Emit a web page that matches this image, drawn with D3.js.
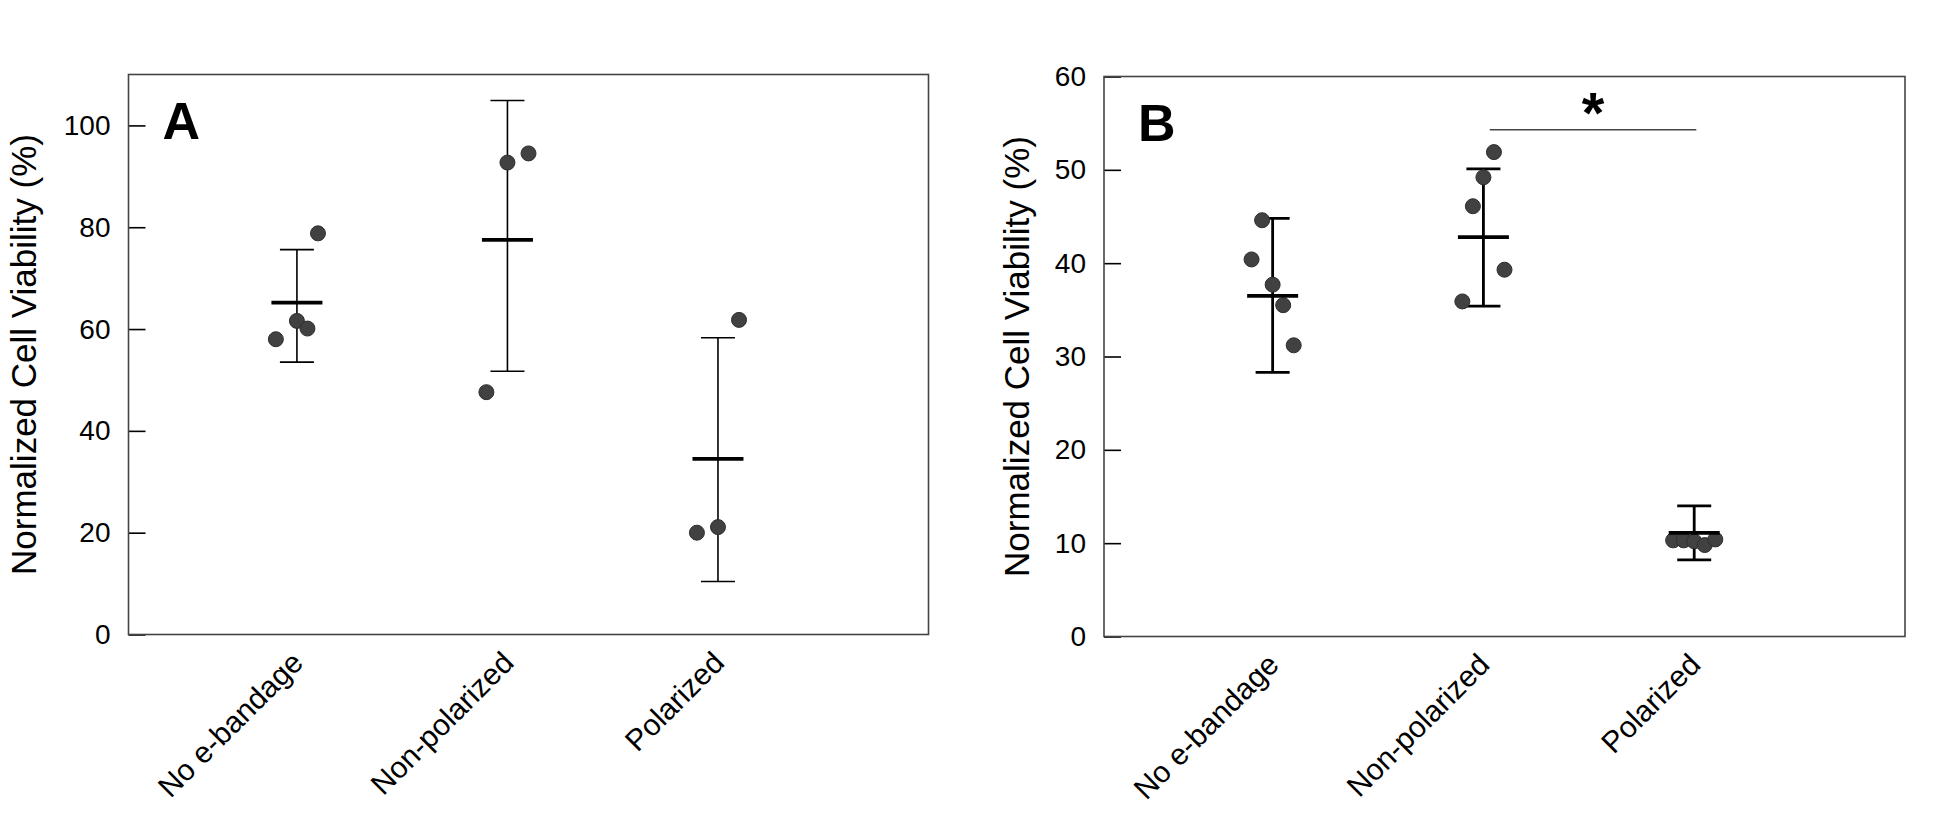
<!DOCTYPE html>
<html>
<head>
<meta charset="utf-8">
<script src="https://cdn.jsdelivr.net/npm/d3@7/dist/d3.min.js"></script>
<style>
  html, body { margin: 0; padding: 0; background: #ffffff; }
  svg { display: block; }
  text { font-family: "Liberation Sans", Arial, Helvetica, sans-serif; fill: #000; }
</style>
</head>
<body>
<svg id="chart" width="1946" height="840"></svg>
<script>
// ---------------- DATA ----------------
const categories = ["No e-bandage", "Non-polarized", "Polarized"];
const categoryPos = [1, 2, 3];

// Panel A
const aTicks = [0, 20, 40, 60, 80, 100];
const aMean = [65.2, 77.5, 34.5];
const aLow  = [53.5, 51.7, 10.4];
const aHigh = [75.6, 104.9, 58.3];
const aPointsY = [[78.8, 61.6, 60.1, 58.0], [92.7, 94.5, 47.6], [61.8, 20.0, 21.1]];
const aPointsX = [[1.1, 1.0, 1.05, 0.9], [2.0, 2.1, 1.9], [3.1, 2.9, 3.0]];

// Panel B
const bTicks = [0, 10, 20, 30, 40, 50, 60];
const bMean = [36.5, 42.8, 11.1];
const bLow  = [28.3, 35.4, 8.2];
const bHigh = [44.8, 50.1, 14.0];
const bPointsY = [[44.6, 40.4, 37.7, 35.5, 31.2], [51.9, 49.2, 46.1, 39.3, 35.9], [10.3, 10.3, 10.2, 9.8, 10.4]];
const bPointsX = [[0.95, 0.9, 1.0, 1.05, 1.1], [2.05, 2.0, 1.95, 2.1, 1.9], [2.9, 2.95, 3.0, 3.05, 3.1]];
const bSigX = [2.03, 3.01];
const bSigY = 54.3;
const bSigLabel = "*";

const yTitle = "Normalized Cell Viability (%)";
const panelLabels = ["A", "B"];

// ---------------- DRAW ----------------
const svg = d3.select("#chart");

function panel(cfg) {
  const g = svg.append("g").attr("transform", `translate(${cfg.left},${cfg.top})`);
  const w = cfg.width, h = cfg.height;
  const x = d3.scaleLinear().domain([0.2, 4.0]).range([0, w]);
  const y = d3.scaleLinear().domain(cfg.yDomain).range([h, 0]);

  // y axis ticks (inward) + labels
  const ax = g.append("g").call(
    d3.axisLeft(y).tickValues(cfg.ticks).tickSizeInner(-17).tickSizeOuter(0).tickPadding(18).tickFormat(d3.format("d"))
  );
  ax.select(".domain").remove();
  ax.selectAll(".tick line").attr("stroke", "#000").attr("stroke-width", 1.6);
  ax.selectAll(".tick text").style("font-size", "28px").attr("fill", "#000");

  // frame
  g.append("rect").attr("x", 0).attr("y", 0).attr("width", w).attr("height", h)
    .attr("fill", "none").attr("stroke", "#444").attr("stroke-width", 1.6);

  // y title
  g.append("text")
    .attr("transform", `translate(${cfg.titleX},${h / 2}) rotate(-90)`)
    .attr("text-anchor", "middle")
    .style("font-size", "35px")
    .text(yTitle);

  // panel letter
  g.append("text").attr("x", cfg.letterX).attr("y", 64)
    .style("font-size", "52px").style("font-weight", "bold").text(cfg.letter);

  // x labels
  g.selectAll("text.xlab").data(categories).enter().append("text")
    .attr("class", "xlab")
    .attr("text-anchor", "end")
    .attr("transform", (d, i) => `translate(${x(categoryPos[i]) + 8},${h + 30}) rotate(-45)`)
    .style("font-size", "30px")
    .text(d => d);

  // error bars
  const eb = g.selectAll("g.eb").data(categories).enter().append("g").attr("class", "eb");
  eb.append("line")
    .attr("x1", (d, i) => x(categoryPos[i])).attr("x2", (d, i) => x(categoryPos[i]))
    .attr("y1", (d, i) => y(cfg.low[i])).attr("y2", (d, i) => y(cfg.high[i]))
    .attr("stroke", "#000").attr("stroke-width", cfg.ebWidth);
  [cfg.low, cfg.high].forEach(arr => {
    eb.append("line")
      .attr("x1", (d, i) => x(categoryPos[i]) - 17).attr("x2", (d, i) => x(categoryPos[i]) + 17)
      .attr("y1", (d, i) => y(arr[i])).attr("y2", (d, i) => y(arr[i]))
      .attr("stroke", "#000").attr("stroke-width", cfg.ebWidth);
  });

  // points
  categories.forEach((c, i) => {
    g.selectAll(null).data(cfg.py[i]).enter().append("circle")
      .attr("cx", (d, j) => x(cfg.px[i][j]))
      .attr("cy", d => y(d))
      .attr("r", 7.5)
      .attr("fill", "#414141")
      .attr("stroke", "#2e2e2e")
      .attr("stroke-width", 1);
  });

  // mean bars
  g.selectAll("line.mean").data(cfg.mean).enter().append("line")
    .attr("class", "mean")
    .attr("x1", (d, i) => x(categoryPos[i]) - 25.5).attr("x2", (d, i) => x(categoryPos[i]) + 25.5)
    .attr("y1", d => y(d)).attr("y2", d => y(d))
    .attr("stroke", "#000").attr("stroke-width", 3.8);

  return { g, x, y };
}

panel({
  left: 128.5, top: 74.5, width: 800, height: 560,
  yDomain: [0, 110], ticks: aTicks,
  mean: aMean, low: aLow, high: aHigh, py: aPointsY, px: aPointsX,
  ebWidth: 1.6, titleX: -93, letter: panelLabels[0], letterX: 34
});

const pb = panel({
  left: 1104, top: 76.5, width: 801, height: 560,
  yDomain: [0, 60], ticks: bTicks,
  mean: bMean, low: bLow, high: bHigh, py: bPointsY, px: bPointsX,
  ebWidth: 2.8, titleX: -75, letter: panelLabels[1], letterX: 34
});

// significance bar on panel B
pb.g.append("line")
  .attr("x1", pb.x(bSigX[0])).attr("x2", pb.x(bSigX[1]))
  .attr("y1", pb.y(bSigY)).attr("y2", pb.y(bSigY))
  .attr("stroke", "#444").attr("stroke-width", 1.4);
pb.g.append("text")
  .attr("x", pb.x((bSigX[0] + bSigX[1]) / 2))
  .attr("y", pb.y(bSigY))
  .attr("dy", "0.05em")
  .attr("text-anchor", "middle")
  .style("font-size", "58px").style("font-weight", "bold")
  .text(bSigLabel);
</script>
</body>
</html>
